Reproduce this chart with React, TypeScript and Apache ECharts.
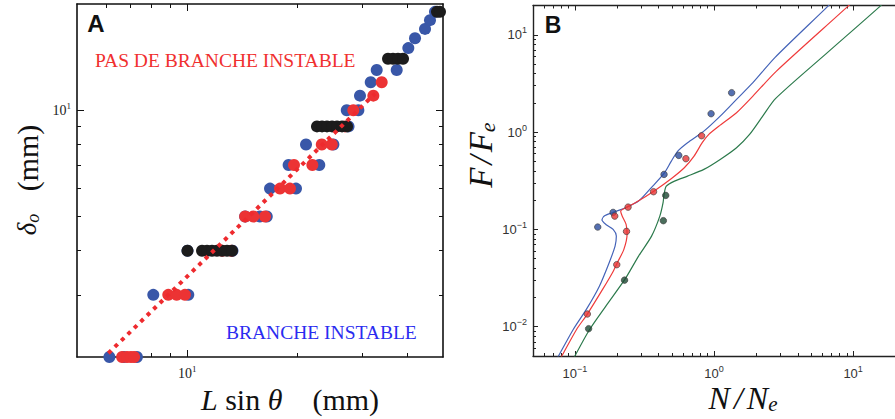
import React, { useEffect, useRef } from 'react';
import * as echarts from 'echarts';

// ---------- Panel A data (L sin θ in mm, δo in mm) ----------
const aBlueX = [6.13, 6.72, 7.29, 8.08, 10.07, 10.02, 13.3, 14.4, 15.8, 16.5, 16.84, 19.83, 18.93, 22.96, 21.12, 25.09, 27.6, 27.29, 29.36, 29.66, 31.73, 32.95, 37.37, 40.2, 41.93, 44.65, 46.07, 47.54];
const aBlueY = [2, 2, 2, 3, 3, 4, 4, 5, 5, 5, 6, 6, 7, 7, 8, 8, 9, 10, 10, 11, 12, 13, 13, 15, 16, 17, 18, 19];
const aRedX = [6.64, 6.85, 7.02, 7.16, 8.88, 9.36, 9.86, 12.47, 13.2, 14.4, 15.16, 16.32, 17.93, 19.09, 19.58, 21.98, 23.32, 24.84, 27.0, 28.44, 32.26, 34.0];
const aRedY = [2, 2, 2, 2, 3, 3, 3, 4, 4, 5, 5, 5, 6, 6, 7, 7, 8, 8, 9, 10, 11, 12];
const aBlackX = [10.02, 10.98, 11.33, 11.69, 12.06, 12.45, 12.85, 13.26, 22.63, 23.36, 24.1, 24.88, 25.67, 26.49, 27.34, 35.38, 36.5, 37.67, 38.88, 48.14, 49.06];
const aBlackY = [4, 4, 4, 4, 4, 4, 4, 4, 9, 9, 9, 9, 9, 9, 9, 14, 14, 14, 14, 19, 19];
const aFitX = [6.09, 32.6];
const aFitY = [2.05, 11.15];
const aXMajor = [10];
const aXMinor = [6, 7, 8, 9, 20, 30, 40];
const aYMajor = [10];
const aYMinor = [3, 4, 5, 6, 7, 8, 9];

// ---------- Panel B data (N/Ne, F/Fe) ----------
const bBlueCurveN = [0.0731, 0.0762, 0.0973, 0.1209, 0.150, 0.1764, 0.1945, 0.1986, 0.1884, 0.167, 0.1566, 0.1626, 0.1862, 0.2312, 0.287, 0.3558, 0.4375, 0.4924, 0.5488, 0.6456, 0.846, 1.108, 1.452, 1.904, 2.75, 6.6, 6.95];
const bBlueCurveF = [0.0045, 0.00499, 0.00937, 0.01507, 0.0261, 0.0455, 0.0673, 0.0853, 0.1, 0.1125, 0.1247, 0.137, 0.1485, 0.167, 0.1954, 0.2704, 0.376, 0.5, 0.638, 0.778, 1.024, 1.46, 2.17, 3.22, 5.86, 19.7, 21.5];
const bRedCurveN = [0.0775, 0.0806, 0.1028, 0.1229, 0.1582, 0.1862, 0.2019, 0.225, 0.2373, 0.2334, 0.2187, 0.2133, 0.225, 0.272, 0.376, 0.4923, 0.6118, 0.719, 0.823, 0.918, 1.108, 1.452, 1.904, 2.8, 9.2, 9.75];
const bRedCurveF = [0.0045, 0.005, 0.00937, 0.01349, 0.02417, 0.0359, 0.0455, 0.0623, 0.0889, 0.1126, 0.137, 0.1543, 0.1633, 0.188, 0.2518, 0.332, 0.4305, 0.5666, 0.778, 0.947, 1.18, 1.583, 2.344, 4.21, 19.7, 21.5];
const bGreenCurveN = [0.097, 0.1, 0.1276, 0.167, 0.2286, 0.287, 0.3558, 0.408, 0.4305, 0.4375, 0.454, 0.52, 0.6456, 0.846, 1.108, 1.452, 1.802, 2.239, 2.778, 6.56, 15.67, 16.5];
const bGreenCurveF = [0.0045, 0.005, 0.00937, 0.0163, 0.0306, 0.0532, 0.0853, 0.137, 0.188, 0.229, 0.2786, 0.3136, 0.353, 0.4136, 0.5236, 0.691, 0.947, 1.46, 2.218, 6.59, 19.7, 21.5];
const bBlueDotN = [0.146, 0.1882, 0.4375, 0.558, 0.953, 1.339];
const bBlueDotF = [0.1057, 0.1495, 0.3674, 0.576, 1.545, 2.54];
const bRedDotN = [0.1229, 0.2, 0.235, 0.1935, 0.2412, 0.3676, 0.628, 0.814];
const bRedDotF = [0.0135, 0.0434, 0.0954, 0.137, 0.1694, 0.244, 0.533, 0.918];
const bGreenDotN = [0.1255, 0.2275, 0.4325, 0.4498];
const bGreenDotF = [0.00954, 0.0301, 0.1229, 0.2236];
const bXMajor = [0.1, 1, 10];
const bXMinor = [0.06, 0.07, 0.08, 0.09, 0.2, 0.3, 0.4, 0.5, 0.6, 0.7, 0.8, 0.9, 2, 3, 4, 5, 6, 7, 8, 9];
const bYMajor = [0.01, 0.1, 1, 10];
const bYMinor = [0.006, 0.007, 0.008, 0.009, 0.02, 0.03, 0.04, 0.05, 0.06, 0.07, 0.08, 0.09, 0.2, 0.3, 0.4, 0.5, 0.6, 0.7, 0.8, 0.9, 2, 3, 4, 5, 6, 7, 8, 9];

const zip = (xs: number[], ys: number[]) => xs.map((x, i) => [x, ys[i]]);

const SERIF = 'Liberation Serif';
const SANS = 'Liberation Sans';

function powLabel(v: number) {
  const e = Math.round(Math.log10(v));
  return `{b|10}{s|${e < 0 ? '\u2212' + -e : e}}`;
}

function axis(opts: any) {
  const { grid, pos, min, max, ticks, len, line, color, lw, labels, rich, margin } = opts;
  return {
    type: 'log',
    logBase: 10,
    gridIndex: grid,
    position: pos,
    min,
    max,
    silent: true,
    axisLine: { show: !!line, onZero: false, lineStyle: { color, width: lw } },
    axisTick: { show: true, inside: true, length: len, customValues: ticks, lineStyle: { color, width: 1 } },
    axisLabel: labels
      ? { show: true, customValues: labels, formatter: powLabel, rich, margin }
      : { show: false },
    splitLine: { show: false },
    minorTick: { show: false },
    minorSplitLine: { show: false },
  };
}

export default function App() {
  const ref = useRef<HTMLDivElement>(null);
  useEffect(() => {
    if (!ref.current) return;
    const chart = echarts.init(ref.current, null, { renderer: 'svg' });

    const richA = {
      b: { fontFamily: SERIF, fontSize: 14, color: '#222' },
      s: { fontFamily: SERIF, fontSize: 9, color: '#222', padding: [0, 0, 9, 0] },
    };
    const richB = {
      b: { fontFamily: SANS, fontSize: 13, color: '#333' },
      s: { fontFamily: SANS, fontSize: 9, color: '#333', padding: [0, 0, 9, 0] },
    };

    const A = { grid: 0, color: '#111', lw: 1.6 };
    const B = { grid: 1, color: '#222', lw: 1.4 };

    const xAxis = [
      axis({ ...A, pos: 'bottom', min: 5, max: 50, ticks: aXMajor, len: 7, line: true, labels: aXMajor, rich: richA, margin: 7 }),
      axis({ ...A, pos: 'bottom', min: 5, max: 50, ticks: aXMinor, len: 4 }),
      axis({ ...A, pos: 'top', min: 5, max: 50, ticks: aXMajor, len: 7, line: true }),
      axis({ ...A, pos: 'top', min: 5, max: 50, ticks: aXMinor, len: 4 }),
      axis({ ...B, pos: 'bottom', min: 0.05, max: 20, ticks: bXMajor, len: 5, line: true, labels: bXMajor, rich: richB, margin: 8 }),
      axis({ ...B, pos: 'bottom', min: 0.05, max: 20, ticks: bXMinor, len: 3 }),
      axis({ ...B, pos: 'top', min: 0.05, max: 20, ticks: bXMajor, len: 5, line: true }),
      axis({ ...B, pos: 'top', min: 0.05, max: 20, ticks: bXMinor, len: 3 }),
    ];
    const yAxis = [
      axis({ ...A, pos: 'left', min: 2, max: 20, ticks: aYMajor, len: 7, line: true, labels: aYMajor, rich: richA, margin: 6 }),
      axis({ ...A, pos: 'left', min: 2, max: 20, ticks: aYMinor, len: 4 }),
      axis({ ...A, pos: 'right', min: 2, max: 20, ticks: aYMajor, len: 7, line: true }),
      axis({ ...A, pos: 'right', min: 2, max: 20, ticks: aYMinor, len: 4 }),
      axis({ ...B, pos: 'left', min: 0.005, max: 20, ticks: bYMajor, len: 5, line: true, labels: bYMajor, rich: richB, margin: 6 }),
      axis({ ...B, pos: 'left', min: 0.005, max: 20, ticks: bYMinor, len: 3 }),
    ];

    const dotA = (name: string, color: string, data: number[][], z: number) => ({
      name, type: 'scatter', xAxisIndex: 0, yAxisIndex: 0, data, z,
      symbol: 'circle', symbolSize: 12,
      itemStyle: { color, opacity: 1 },
      silent: true,
    });
    const curveB = (name: string, color: string, data: number[][]) => ({
      name, type: 'line', xAxisIndex: 4, yAxisIndex: 4, data,
      showSymbol: false, symbol: 'none', smooth: 0.25, clip: true,
      lineStyle: { color, width: 1.2 }, z: 3, silent: true,
    });
    const dotB = (name: string, color: string, data: number[][]) => ({
      name, type: 'scatter', xAxisIndex: 4, yAxisIndex: 4, data,
      symbol: 'circle', symbolSize: 6.5,
      itemStyle: { color, borderColor: '#3a3a3a', borderWidth: 0.8 },
      z: 5, silent: true,
    });

    const txt = (fontSize: number, italic: boolean, extra: any = {}) => ({
      fontFamily: SERIF, fontSize, fontStyle: italic ? 'italic' : 'normal', fill: '#111', ...extra,
    });

    chart.setOption({
      animation: false,
      backgroundColor: '#ffffff',
      grid: [
        { left: 77, top: 4, width: 366, height: 353 },
        { left: 533, top: 5.5, width: 369.5, height: 350.5 },
      ],
      xAxis,
      yAxis,
      series: [
        dotA('blue', '#3957a8', zip(aBlueX, aBlueY), 2),
        dotA('red', '#ec3334', zip(aRedX, aRedY), 3),
        dotA('black', '#1c1c1c', zip(aBlackX, aBlackY), 4),
        {
          name: 'fit', type: 'line', xAxisIndex: 0, yAxisIndex: 0, data: zip(aFitX, aFitY),
          showSymbol: false, symbol: 'none', z: 6, silent: true,
          lineStyle: { color: '#ee2a2e', width: 4, type: [4, 5] },
        },
        curveB('blueCurve', '#4463b8', zip(bBlueCurveN, bBlueCurveF)),
        curveB('redCurve', '#ef3b3b', zip(bRedCurveN, bRedCurveF)),
        curveB('greenCurve', '#2c7a4c', zip(bGreenCurveN, bGreenCurveF)),
        dotB('blueDot', '#2b4c9e', zip(bBlueDotN, bBlueDotF)),
        dotB('redDot', '#e63434', zip(bRedDotN, bRedDotF)),
        dotB('greenDot', '#1d4a33', zip(bGreenDotN, bGreenDotF)),
      ],
      graphic: [
        { type: 'text', x: 96, y: 23, silent: true, style: { text: 'A', fontFamily: SANS, fontWeight: 'bold', fontSize: 24, fill: '#111', align: 'center', verticalAlign: 'middle' } },
        { type: 'text', x: 553, y: 25, silent: true, style: { text: 'B', fontFamily: SANS, fontWeight: 'bold', fontSize: 23, fill: '#111', align: 'center', verticalAlign: 'middle' } },
        { type: 'text', x: 95, y: 60, silent: true, style: { text: 'PAS DE BRANCHE INSTABLE', fontFamily: SERIF, fontSize: 19.5, fill: '#f0302f', align: 'left', verticalAlign: 'middle' } },
        { type: 'text', x: 226, y: 332, silent: true, style: { text: 'BRANCHE INSTABLE', fontFamily: SERIF, fontSize: 19.5, fill: '#2a2cf0', align: 'left', verticalAlign: 'middle' } },
        {
          type: 'text', x: 27, y: 180, rotation: Math.PI / 2, silent: true,
          style: {
            text: '{i|δ}{sub|o}{n|   (mm)}', align: 'center', verticalAlign: 'middle',
            rich: {
              i: txt(27, true),
              sub: txt(18, true, { padding: [12, 0, 0, 0] }),
              n: txt(30, false),
            },
          },
        },
        {
          type: 'text', x: 290, y: 399, silent: true,
          style: {
            text: '{i|L}{n| sin }{i|θ}{n|    (mm)}', align: 'center', verticalAlign: 'middle',
            rich: {
              i: txt(30, true),
              n: txt(30, false),
            },
          },
        },
        {
          type: 'text', x: 481, y: 155, rotation: Math.PI / 2, silent: true,
          style: {
            text: '{i|F}{sl|/}{i|F}{sub|e}', align: 'center', verticalAlign: 'middle',
            rich: {
              i: txt(33, true),
              sl: txt(33, true, { padding: [0, 3, 0, 3] }),
              sub: txt(22, true, { padding: [13, 0, 0, 0] }),
            },
          },
        },
        {
          type: 'text', x: 743, y: 398, silent: true,
          style: {
            text: '{i|N}{sl|/}{i|N}{sub|e}', align: 'center', verticalAlign: 'middle',
            rich: {
              i: txt(32, true),
              sl: txt(32, true, { padding: [0, 4, 0, 4] }),
              sub: txt(21, true, { padding: [12, 0, 0, 0] }),
            },
          },
        },
      ],
    });
    return () => chart.dispose();
  }, []);

  return (
    <div
      ref={ref}
      style={{ position: 'fixed', left: 0, top: 0, width: 895, height: 419, background: '#fff' }}
    />
  );
}
